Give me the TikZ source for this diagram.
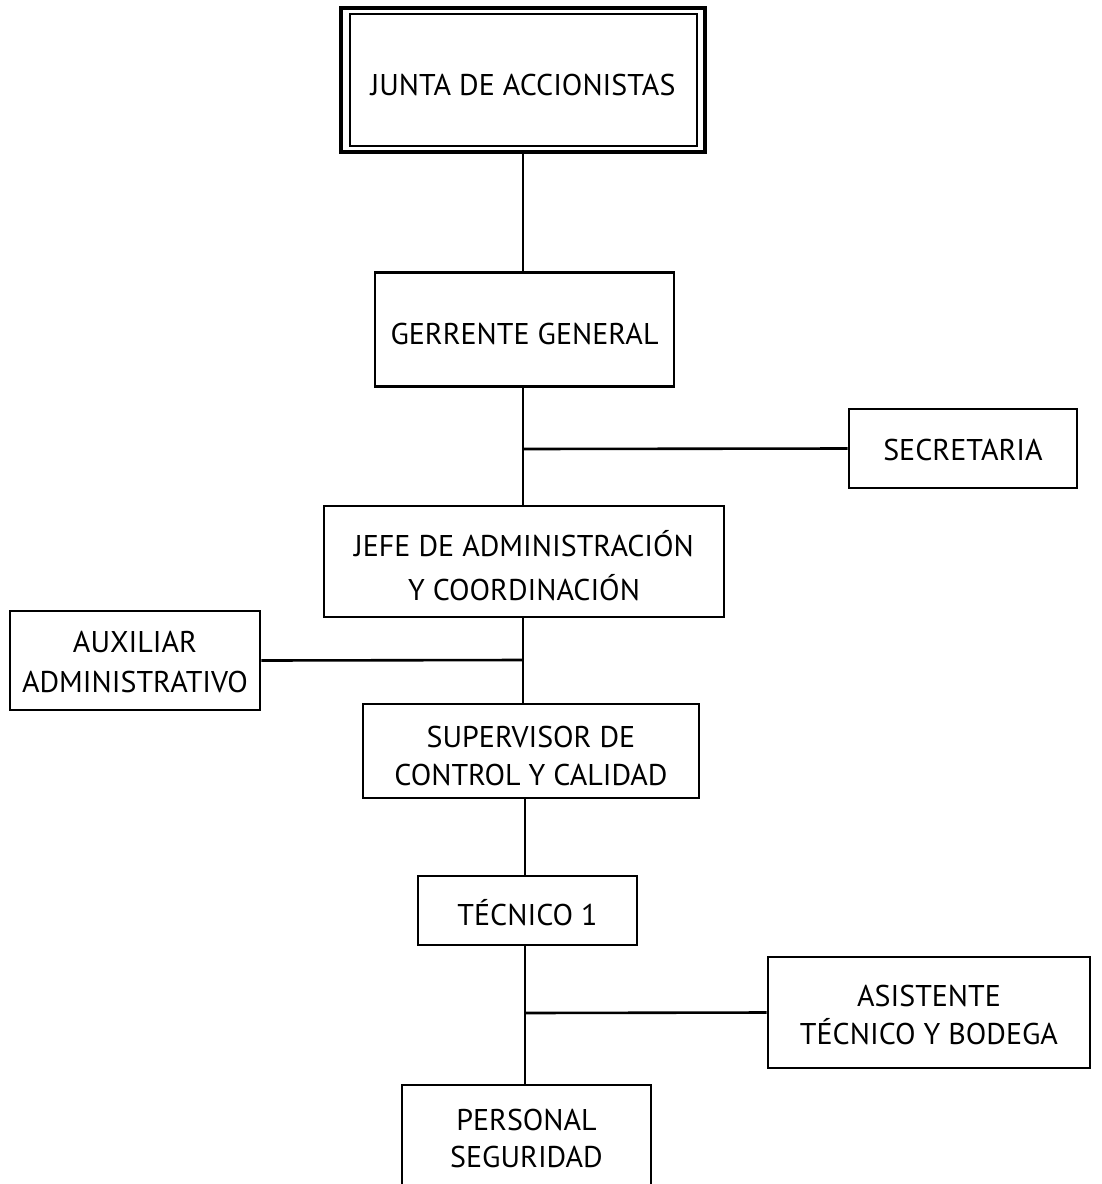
\documentclass[tikz,border=0pt]{standalone}
\usepackage{fontspec}
\setmainfont{PT Sans}
\begin{document}
\begin{tikzpicture}[x=1pt,y=-1pt,
  box/.style={draw,line width=2.7pt,rectangle,inner sep=0pt},
  lab/.style={align=center,inner sep=0pt,text height=21pt,text depth=0pt,font=\fontsize{30}{38}\selectfont},
  lab2/.style={lab,text height=59pt},
  conn/.style={line width=2.6pt}]
\useasboundingbox (0,0) rectangle (1102,1184);
% Junta (double border)
\node[box,line width=3.5pt,minimum width=364pt,minimum height=144pt,
  label={[lab,yshift=-4.5pt]center:JUNTA DE ACCIONISTAS}] (junta) at (523,80) {};
\draw[line width=1.5pt] (350,14) rectangle (697,146);
\node[box,minimum width=299pt,minimum height=114pt,
  label={[lab,yshift=-4pt]center:GERRENTE GENERAL}] (ger) at (524.5,329.5) {};
\node[box,minimum width=228pt,minimum height=79pt,
  label={[lab,yshift=-1pt]center:SECRETARIA}] (sec) at (963,448.5) {};
\node[box,minimum width=400pt,minimum height=111pt,
  label={[lab,text height=65pt,font=\fontsize{30}{44}\selectfont,yshift=-6.5pt]center:JEFE DE ADMINISTRACIÓN\\Y COORDINACIÓN}] (jefe) at (524,561.5) {};
\node[box,minimum width=250pt,minimum height=99pt,
  label={[lab,text height=61.5pt,font=\fontsize{30}{40.5}\selectfont,yshift=-1.5pt]center:AUXILIAR\\ADMINISTRATIVO}] (aux) at (135,660.5) {};
\node[box,minimum width=336pt,minimum height=94pt,
  label={[lab2,yshift=-5pt]center:SUPERVISOR DE\\CONTROL Y CALIDAD}] (sup) at (531,751) {};
\node[box,minimum width=219pt,minimum height=69pt,
  label={[lab,yshift=-4.5pt]center:TÉCNICO 1}] (tec) at (527.5,910.5) {};
\node[box,minimum width=322pt,minimum height=111pt,
  label={[lab2,yshift=-2.5pt]center:ASISTENTE\\TÉCNICO Y BODEGA}] (asi) at (929,1012.5) {};
\node[box,minimum width=249pt,minimum height=110pt,
  label={[lab,text height=58pt,font=\fontsize{30}{37}\selectfont,yshift=1.5pt]center:PERSONAL\\SEGURIDAD}] (per) at (526.5,1140) {};
% connectors
\coordinate (c1) at (523,449);
\coordinate (c2) at (523,660);
\coordinate (c3) at (525,1013);
\draw[conn] (junta.south -| 523,0) -- (ger.north -| 523,0);
\draw[conn] (ger.south -| 523,0) -- (jefe.north -| 523,0);
\draw[conn] (c1) -- (sec.west);
\draw[conn] (jefe.south -| 523,0) -- (sup.north -| 523,0);
\draw[conn] (c2) -- (aux.east);
\draw[conn] (sup.south -| 525,0) -- (tec.north -| 525,0);
\draw[conn] (tec.south -| 525,0) -- (per.north -| 525,0);
\draw[conn] (c3) -- (asi.west);
\end{tikzpicture}
\end{document}
